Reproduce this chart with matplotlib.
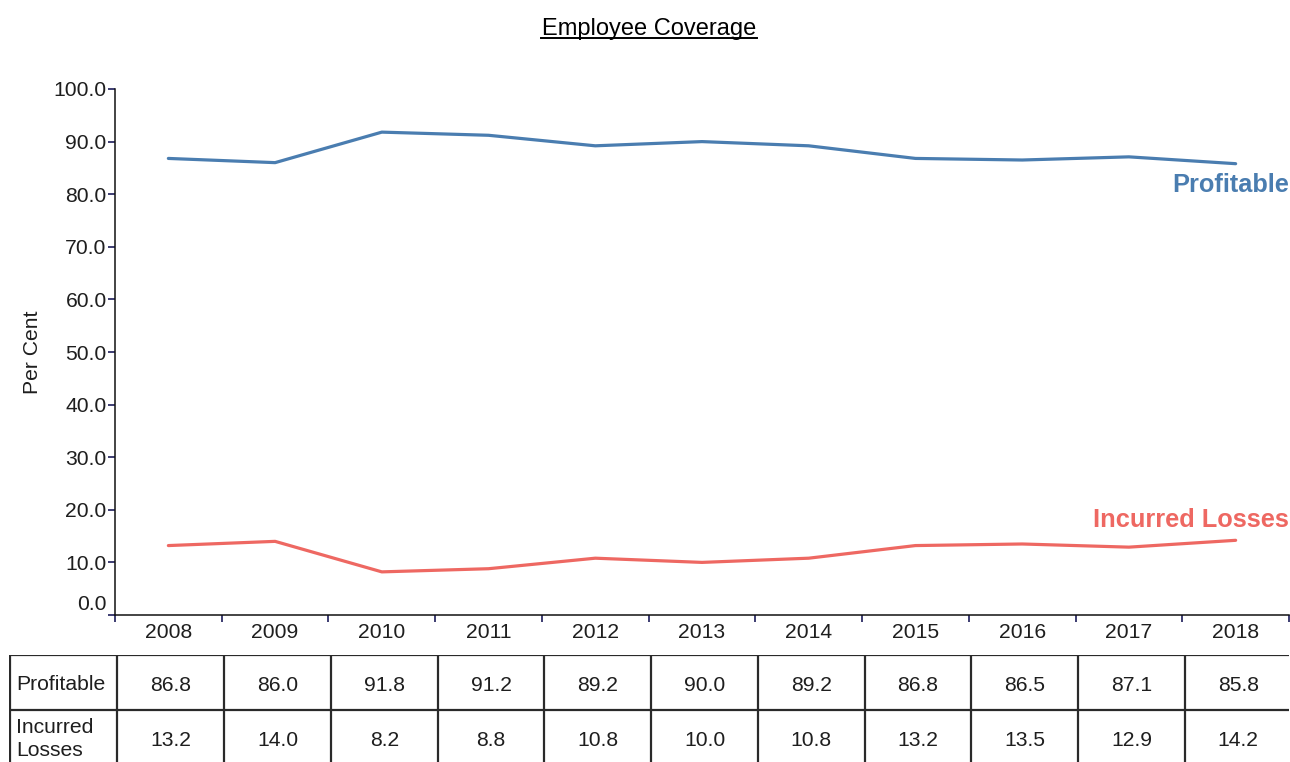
import matplotlib.pyplot as plt
from matplotlib.transforms import ScaledTranslation

plt.rcParams['font.family'] = ['Liberation Sans', 'DejaVu Sans']

# data
years = ['2008', '2009', '2010', '2011', '2012', '2013', '2014', '2015', '2016', '2017', '2018']
profitable = [86.8, 86.0, 91.8, 91.2, 89.2, 90.0, 89.2, 86.8, 86.5, 87.1, 85.8]
incurred_losses = [13.2, 14.0, 8.2, 8.8, 10.8, 10.0, 10.8, 13.2, 13.5, 12.9, 14.2]
series_names = ['Profitable', 'Incurred Losses']
table_row_labels = ['Profitable', 'Incurred\nLosses']

blue = '#4a7db0'
red = '#ee6862'
tick_col = '#1c1c5a'
text_col = '#1e1e1e'

W, H = 1290, 762
fig = plt.figure(figsize=(W / 100, H / 100), dpi=100)

# main chart area (pixel box -> figure fraction)
left_px, right_px, top_px, bottom_px = 115, 1289, 89, 615
ax = fig.add_axes([left_px / W, (H - bottom_px) / H,
                   (right_px - left_px) / W, (bottom_px - top_px) / H])

x = list(range(len(years)))
ax.plot(x, profitable, color=blue, lw=2.3, solid_capstyle='round')
ax.plot(x, incurred_losses, color=red, lw=2.3, solid_capstyle='round')

ax.set_xlim(-0.5, len(years) - 0.5)
ax.set_ylim(0, 100)

for s in ['top', 'right']:
    ax.spines[s].set_visible(False)
for s in ['left', 'bottom']:
    ax.spines[s].set_color('#111111')
    ax.spines[s].set_linewidth(1.1)

yt = list(range(0, 101, 10))
ax.set_yticks(yt)
ax.set_yticklabels([f'{v:.1f}' for v in yt])
ax.tick_params(axis='y', length=5, width=1.2, color=tick_col, pad=1,
               labelsize=15.2, labelcolor=text_col)
# lift the 0.0 label above the x axis
zero_lbl = ax.get_yticklabels()[0]
zero_lbl.set_transform(zero_lbl.get_transform() + ScaledTranslation(0, 0.12, fig.dpi_scale_trans))

# year labels at band centres, tick marks at band edges
ax.set_xticks(x)
ax.set_xticklabels(years)
ax.set_xticks([i - 0.5 for i in range(len(years) + 1)], minor=True)
ax.tick_params(axis='x', which='major', length=0, pad=6, labelsize=15.2, labelcolor=text_col)
ax.tick_params(axis='x', which='minor', length=5, width=1.2, color=tick_col)

ax.set_ylabel('Per Cent', fontsize=15.2, color=text_col)
ax.yaxis.set_label_coords(-73 / (right_px - left_px), 0.5)

# series labels at the right end
ax.text(1.0, 86.0 - 4.2, series_names[0], transform=ax.get_yaxis_transform(),
        ha='right', va='center', color=blue, fontsize=18.3, fontweight='bold', clip_on=False)
ax.text(1.0, 14.2 + 3.8, series_names[1], transform=ax.get_yaxis_transform(),
        ha='right', va='center', color=red, fontsize=18.3, fontweight='bold', clip_on=False)

# title
fig.text(649 / W, 1 - 29 / H, 'Employee Coverage', ha='center', va='center',
         fontsize=17, color='black')
fig.add_artist(plt.Line2D([541 / W, 757 / W], [1 - 38 / H, 1 - 38 / H],
                          color='black', lw=1.4))

# data table below the chart
band = (right_px - left_px) / len(years)
tab_left_px, tab_top_px = 9, 655
row_h = 55
tax = fig.add_axes([tab_left_px / W, 0, (right_px - tab_left_px) / W, (H - tab_top_px) / H])
x_left = -0.5 - (left_px - tab_left_px) / band
tax.set_xlim(x_left, len(years) - 0.5)
tax.set_ylim((H - tab_top_px) / row_h, 0)
tax.axis('off')

# column borders sit a few pixels right of the axis band edges
shift = 2.5 / band
edges = [x_left + 0.5 / band] + [i - 0.5 + shift for i in range(len(years))]
tax.hlines([0, 1, 2], x_left, len(years) - 0.5, color='#2a2a2a', lw=1.6)
tax.vlines(edges, 0, 2, color='#2a2a2a', lw=1.6)

for r, (lbl, vals) in enumerate(zip(table_row_labels, [profitable, incurred_losses])):
    tax.text(x_left + 0.07, r + 0.53, lbl, ha='left', va='center', fontsize=15.2,
             color=text_col, linespacing=1.25)
    for i, v in enumerate(vals):
        tax.text(i + shift, r + 0.55, f'{v:.1f}', ha='center', va='center',
                 fontsize=15.2, color=text_col)

fig.savefig('out.png', dpi=100)
